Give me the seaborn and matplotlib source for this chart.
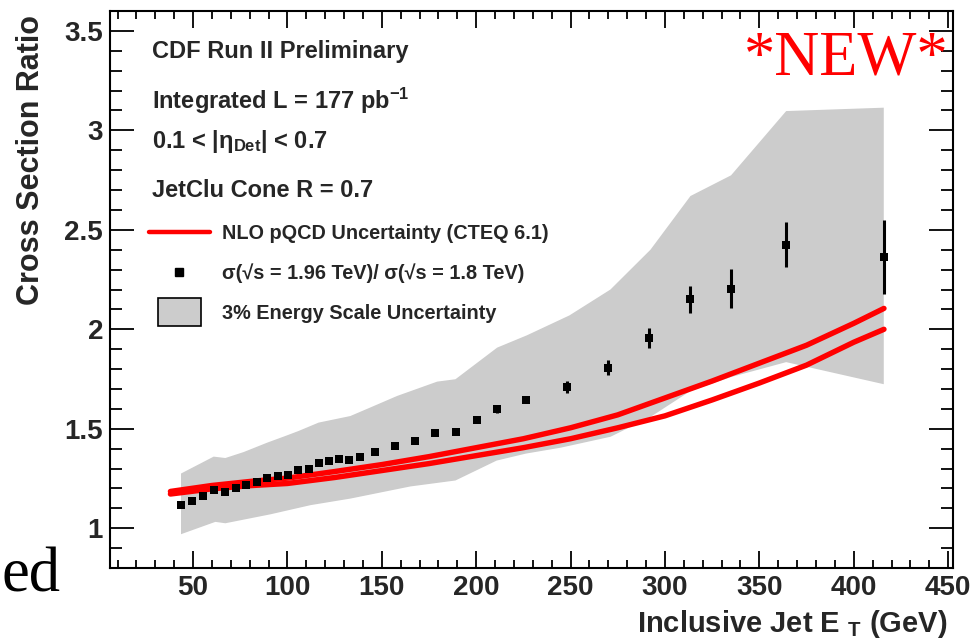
import numpy as np
import pandas as pd
import matplotlib
matplotlib.use("Agg")
import matplotlib.pyplot as plt
import seaborn as sns
from matplotlib.lines import Line2D
from matplotlib.patches import Patch, Rectangle
from matplotlib.legend_handler import HandlerPatch
from matplotlib.ticker import MultipleLocator, FixedLocator, FixedFormatter

# ---------------- data ----------------
jet_et = [43.6, 49.6, 55.5, 61.3, 67.1, 72.8, 78.2, 83.9, 89.2, 94.8, 100.3, 105.8,
          111.2, 116.8, 122.2, 127.5, 132.8, 138.3, 146.2, 156.8, 167.6, 178.4, 189.3,
          200.3, 210.8, 226.2, 248.1, 269.9, 291.6, 313.5, 335.0, 364.2, 415.9]
xsec_ratio = [1.116, 1.139, 1.162, 1.190, 1.180, 1.200, 1.216, 1.230, 1.253, 1.263, 1.266, 1.295,
              1.300, 1.327, 1.340, 1.347, 1.345, 1.360, 1.383, 1.414, 1.439, 1.477, 1.484,
              1.544, 1.601, 1.643, 1.712, 1.807, 1.956, 2.151, 2.204, 2.426, 2.363]
xsec_err = [0.005, 0.005, 0.005, 0.005, 0.005, 0.005, 0.005, 0.005, 0.005, 0.005, 0.005, 0.006,
            0.006, 0.006, 0.006, 0.007, 0.007, 0.007, 0.008, 0.009, 0.010, 0.011, 0.012,
            0.014, 0.020, 0.015, 0.030, 0.038, 0.050, 0.068, 0.098, 0.115, 0.185]

band_up_et = [43.6, 60.9, 67.1, 76.8, 89.2, 99.8, 105.9, 116.5, 133.3, 143.9, 158.1, 179.3,
              189.0, 211.1, 226.9, 249.4, 271.1, 292.3, 313.5, 335.0, 364.2, 415.9]
band_up = [1.275, 1.360, 1.353, 1.383, 1.430, 1.467, 1.489, 1.531, 1.564, 1.607, 1.665, 1.737,
           1.749, 1.908, 1.970, 2.070, 2.200, 2.400, 2.670, 2.774, 3.097, 3.114]
band_lo_et = [43.6, 61.8, 67.1, 91.0, 112.2, 133.3, 165.1, 189.0, 210.8, 226.2, 244.8, 271.2,
              292.4, 313.5, 335.0, 364.2, 415.9]
band_lo = [0.970, 1.032, 1.025, 1.070, 1.116, 1.149, 1.210, 1.240, 1.340, 1.375, 1.405, 1.460,
           1.560, 1.690, 1.760, 1.835, 1.724]

nlo_et = [38, 60, 80, 100, 125, 150, 175, 200, 225, 250, 275, 300, 325, 350, 375, 400, 416]
nlo_upper = [1.185, 1.215, 1.235, 1.252, 1.285, 1.320, 1.360, 1.405, 1.450, 1.505, 1.570,
             1.655, 1.740, 1.830, 1.920, 2.030, 2.105]
nlo_lower = [1.172, 1.198, 1.214, 1.225, 1.255, 1.290, 1.325, 1.365, 1.405, 1.450, 1.505,
             1.565, 1.645, 1.730, 1.820, 1.935, 2.000]

x_ticks = [50, 100, 150, 200, 250, 300, 350, 400, 450]
x_tick_labels = ["50", "100", "150", "200", "250", "300", "350", "400", "450"]
y_ticks = [1, 1.5, 2, 2.5, 3, 3.5]
y_tick_labels = ["1", "1.5", "2", "2.5", "3", "3.5"]

header_lines = ["CDF Run II Preliminary",
                "Integrated L = 177 pb$^{-1}$",
                "0.1 < |\u03b7$_{\\mathrm{Det}}$| < 0.7",
                "JetClu Cone R = 0.7"]
legend_labels = ["NLO pQCD Uncertainty (CTEQ 6.1)",
                 "\u03c3(\u221as = 1.96 TeV)/ \u03c3(\u221as = 1.8 TeV)",
                 "3% Energy Scale Uncertainty"]

# ---------------- style ----------------
sns.set_style("white")
plt.rcParams["font.family"] = ["Liberation Sans", "DejaVu Sans"]
plt.rcParams["font.weight"] = "bold"
plt.rcParams["mathtext.fontset"] = "custom"
plt.rcParams["mathtext.rm"] = "Liberation Sans:bold"
plt.rcParams["mathtext.it"] = "Liberation Sans:bold"
plt.rcParams["mathtext.bf"] = "Liberation Sans:bold"
plt.rcParams["mathtext.sf"] = "Liberation Sans:bold"

fig = plt.figure(figsize=(9.72, 6.43), dpi=100)
fig.patch.set_facecolor("white")
ax = fig.add_axes([0.1132, 0.1166, 0.8673, 0.8663])
ax.set_facecolor("white")

# band polygon
poly_x = np.concatenate([band_up_et, band_lo_et[::-1]])
poly_y = np.concatenate([band_up, band_lo[::-1]])
ax.fill(poly_x, poly_y, color="#cccccc", lw=0, zorder=1)

nlo_df = pd.DataFrame({"et": nlo_et + nlo_et,
                       "ratio": nlo_upper + nlo_lower,
                       "edge": ["upper"] * len(nlo_et) + ["lower"] * len(nlo_et)})
sns.lineplot(data=nlo_df, x="et", y="ratio", units="edge", estimator=None,
             color="red", lw=3.9, ax=ax, legend=False, zorder=2)

ax.errorbar(jet_et, xsec_ratio, yerr=xsec_err, fmt="none", ecolor="black",
            elinewidth=2.2, capsize=0, zorder=3)
pts_df = pd.DataFrame({"et": jet_et, "ratio": xsec_ratio})
sns.scatterplot(data=pts_df, x="et", y="ratio", marker="s", color="black",
                edgecolor="black", s=36, linewidth=0, ax=ax, zorder=4, legend=False)

ax.set_xlim(6, 452.6)
ax.set_ylim(0.8, 3.6)
ax.xaxis.set_major_locator(FixedLocator(x_ticks))
ax.xaxis.set_major_formatter(FixedFormatter(x_tick_labels))
ax.xaxis.set_minor_locator(MultipleLocator(10))
ax.yaxis.set_major_locator(FixedLocator(y_ticks))
ax.yaxis.set_major_formatter(FixedFormatter(y_tick_labels))
ax.yaxis.set_minor_locator(MultipleLocator(0.1))

ax.tick_params(axis="both", which="both", direction="in", top=True, right=True,
               bottom=True, left=True, width=1.3, color="black", labelsize=20, pad=5)
ax.tick_params(axis="y", which="major", length=17)
ax.tick_params(axis="y", which="minor", length=8.6)
ax.tick_params(axis="x", which="major", length=12)
ax.tick_params(axis="x", which="minor", length=6)
for lab in ax.get_xticklabels() + ax.get_yticklabels():
    lab.set_fontweight("bold")
for sp in ax.spines.values():
    sp.set_linewidth(1.5)
    sp.set_color("black")

ax.set_xlabel("Inclusive Jet E $_{\\mathrm{T}}$ (GeV)", fontsize=21, fontweight="bold", loc="right")
ax.xaxis.set_label_coords(0.9929, -0.072)
ax.set_ylabel("Cross Section Ratio", fontsize=22, fontweight="bold", loc="top")
ax.yaxis.set_label_coords(-0.076, 0.993)

header_y = [0.915, 0.8235, 0.7535, 0.6666]
for txt, yy in zip(header_lines, header_y):
    ax.text(0.0495, yy, txt, transform=ax.transAxes, fontsize=17, fontweight="bold",
            ha="left", va="baseline")


def box_patch(legend, orig_handle, xdescent, ydescent, width, height, fontsize):
    return Rectangle((-xdescent + 0.14 * width, -ydescent - 0.5 * height),
                     0.72 * width, 2.0 * height)


handles = [Line2D([], [], color="red", lw=3.2),
           Line2D([], [], marker="s", color="black", ls="none", ms=6),
           Patch(facecolor="#cccccc", edgecolor="black", lw=1.2)]
leg = ax.legend(handles, legend_labels, loc="upper left", bbox_to_anchor=(0.0463, 0.618),
                frameon=False, fontsize=14.3, handlelength=3.05, handletextpad=0.6,
                labelspacing=1.05, borderpad=0, borderaxespad=0,
                handler_map={Patch: HandlerPatch(patch_func=box_patch)})
for t in leg.get_texts():
    t.set_fontweight("bold")

fig.text(0.9763, 0.8834, "*NEW*", color="red", family="Liberation Serif", fontsize=45,
         fontweight="normal", ha="right", va="baseline")
fig.text(0.002, 0.0798, "ed", color="black", family="Liberation Serif", fontsize=45,
         fontweight="normal", ha="left", va="baseline")

fig.savefig("out.png", dpi=100, facecolor="white")
